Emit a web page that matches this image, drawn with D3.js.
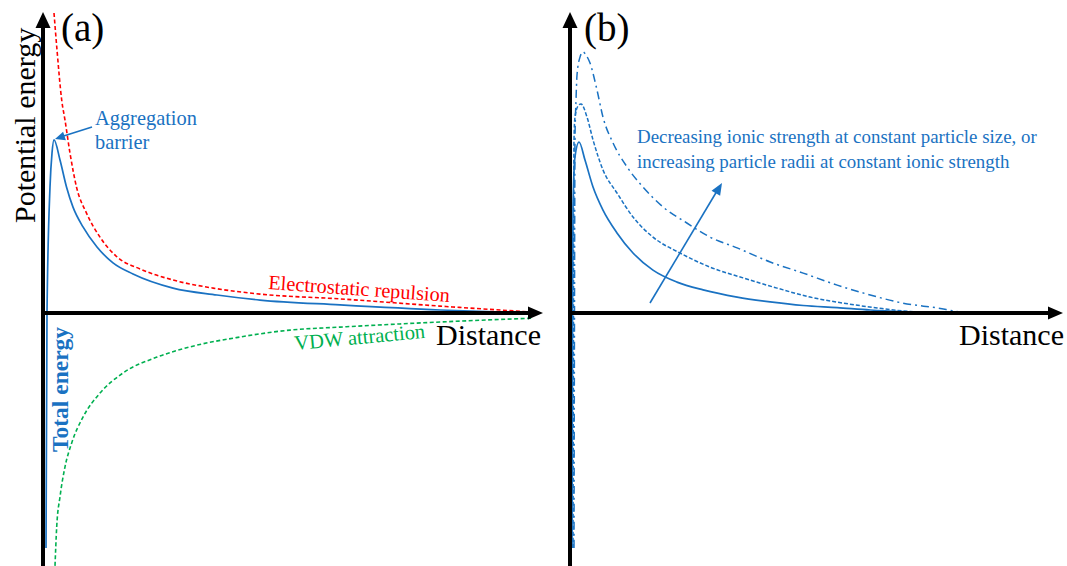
<!DOCTYPE html>
<html>
<head>
<meta charset="utf-8">
<script src="https://cdn.jsdelivr.net/npm/d3@7"></script>
<style>
  body { margin: 0; background: #fff; }
  svg { display: block; }
  text { font-family: "Liberation Serif", "Times New Roman", serif; }
</style>
</head>
<body>
<svg width="1067" height="566"></svg>
<script>
// distance (arbitrary units) vs potential energy (arbitrary units)
const totalA = [[0.6,-78.3],[0.8,0],[1.4,42],[1.8,53.3],[2.2,57.7],[3.4,51],[4.7,42],[6,35.3],[8,28.7],
  [10.8,22],[14,16.7],[18,13],[26,8.3],[34.8,6],[43.4,4.3],[59.4,2.7],[79.4,1],[98,0]];
const repulsionA = [[2.2,100],[2.8,87.7],[3.74,71],[4.4,64.3],[5.4,53.3],[6.7,42],[8.7,33.3],[11.4,25.3],
  [14.8,18.7],[19.4,14.7],[26,11],[34,8.3],[43.4,6.3],[59.4,4.7],[79.4,2.3],[98,0.3]];
const attractionA = [[2.4,-84.3],[2.74,-71.3],[3.4,-61.3],[4.4,-51.3],[5.74,-43.3],[8,-34.7],[11.4,-26.7],
  [16,-20],[22.8,-14.7],[29.4,-11.3],[39.4,-8],[49.4,-5.7],[59.4,-4.7],[79.4,-3],[98,-1.7]];

const lowB = [[0.41,-78.3],[0.5,0],[0.61,35.3],[1.01,52],[1.83,57],[3.04,51],[4.67,42],[6.69,34.3],[9.53,26.7],
  [12.78,20],[16.83,14.3],[21.7,10.3],[27,7.7],[33.9,5.3],[40.6,3.7],[47.3,2.5],[54.2,1.8],[60.9,1],
  [67.5,0.5],[74.4,0.2],[80.5,0],[98,0]];
const midB = [[0.61,-78.3],[0.71,0],[0.81,57.7],[1.01,65.3],[1.62,69],[2.23,69.7],[3.45,65.3],[4.67,57.7],
  [6.69,47.7],[9.53,40],[12.78,32],[16.83,25.3],[22.3,20],[28.4,15.3],[35.1,11.7],[42,8.3],[48.7,5.3],
  [55.4,3.3],[62.3,1.7],[69,0.5],[76.5,0.1],[80.5,0],[98,0]];
const highB = [[0.81,-78.3],[0.91,0],[1.01,57.7],[1.22,71],[1.42,79.3],[2.03,85.3],[2.64,87],[3.25,86],
  [4.06,83.3],[5.48,74.3],[6.69,65.3],[8.72,56.7],[11.56,48.7],[14.8,42],[18.9,35.3],[23.7,30],[28.4,25.3],
  [33.9,21.7],[40.6,17],[47.3,13.3],[54.2,9.3],[60.9,6],[67.5,3.3],[74.4,1.7],[79.7,0.3],[85.2,0],[98,0]];

const panelLabels = ["(a)", "(b)"];
const axisTitleX = "Distance";
const axisTitleY = "Potential energy";
const noteB = ["Decreasing ionic strength at constant particle size, or",
               "increasing particle radii at constant ionic strength"];

const blue = "#1a72c2", red = "#ff0000", green = "#00b050";

const svg = d3.select("svg");
const y = d3.scaleLinear().domain([-85, 100]).range([568, 13]);
const xA = d3.scaleLinear().domain([0, 100]).range([43, 543]);
const xB = d3.scaleLinear().domain([0, 100]).range([570, 1063]);

function arrowHead(g, x1, y1, x2, y2, len, half, color) {
  const a = Math.atan2(y2 - y1, x2 - x1);
  const bx = x2 - len * Math.cos(a), by = y2 - len * Math.sin(a);
  const px = -Math.sin(a) * half, py = Math.cos(a) * half;
  g.append("path")
    .attr("d", `M${x2},${y2}L${bx + px},${by + py}L${bx - px},${by - py}Z`)
    .attr("fill", color);
}

function axes(x) {
  const g = svg.append("g");
  const x0 = x(0), y0 = y(0);
  // y axis
  g.append("line").attr("x1", x0).attr("x2", x0).attr("y1", 566).attr("y2", y(100) + 10)
    .attr("stroke", "#000").attr("stroke-width", 4);
  arrowHead(g, x0, 300, x0, y(100) - 1, 16, 7.5, "#000");
  // x axis
  g.append("line").attr("x1", x0 - 2).attr("x2", x(100) - 10).attr("y1", y0).attr("y2", y0)
    .attr("stroke", "#000").attr("stroke-width", 4);
  arrowHead(g, 300, y0, x(100), y0, 15, 6.5, "#000");
}

function curve(x, data, color, dash, width) {
  const line = d3.line().x(d => x(d[0])).y(d => y(d[1])).curve(d3.curveMonotoneX);
  svg.append("path").datum(data).attr("d", line)
    .attr("fill", "none").attr("stroke", color).attr("stroke-width", width || 1.6)
    .attr("stroke-dasharray", dash);
}

// panel (a)
curve(xA, repulsionA, red, "4,2.5");
curve(xA, attractionA, green, "4,2.5");
curve(xA, totalA, blue, null, 1.7);
axes(xA);

// panel (b)
curve(xB, highB, blue, "8,4,2,4", 1.5);
curve(xB, midB, blue, "4,2", 1.5);
curve(xB, lowB, blue, null, 1.7);
axes(xB);

// labels
svg.append("text").attr("x", 61).attr("y", 41).attr("font-size", 39).text(panelLabels[0]);
svg.append("text").attr("x", 584).attr("y", 41).attr("font-size", 39).text(panelLabels[1]);

svg.append("text").attr("transform", "translate(35,223) rotate(-90)")
  .attr("font-size", 30).text(axisTitleY);
svg.append("text").attr("x", 541).attr("y", 345).attr("text-anchor", "end")
  .attr("font-size", 30).text(axisTitleX);
svg.append("text").attr("x", 1064).attr("y", 345).attr("text-anchor", "end")
  .attr("font-size", 30).text(axisTitleX);

// annotations panel (a)
const ag = svg.append("g").attr("fill", blue).attr("font-size", 20.4);
ag.append("text").attr("x", 95).attr("y", 125).text("Aggregation");
ag.append("text").attr("x", 95).attr("y", 149).text("barrier");
svg.append("line").attr("x1", 92).attr("y1", 127).attr("x2", 62).attr("y2", 136.5)
  .attr("stroke", blue).attr("stroke-width", 1.6);
arrowHead(svg, 92, 127, 55, 139, 10, 4.5, blue);

svg.append("text").attr("transform", "translate(268,289) rotate(4.1)")
  .attr("fill", red).attr("font-size", 20.3).text("Electrostatic repulsion");
svg.append("text").attr("transform", "translate(295,350) rotate(-5.3)")
  .attr("fill", green).attr("font-size", 20.5).text("VDW attraction");
svg.append("text").attr("transform", "translate(68,452) rotate(-90)")
  .attr("fill", blue).attr("font-size", 23.5).attr("font-weight", "bold").text("Total energy");

// annotations panel (b)
const bg = svg.append("g").attr("fill", blue).attr("font-size", 18.9);
bg.append("text").attr("x", 637).attr("y", 143).text(noteB[0]);
bg.append("text").attr("x", 637).attr("y", 168).text(noteB[1]);
svg.append("line").attr("x1", 650).attr("y1", 303).attr("x2", 717).attr("y2", 191)
  .attr("stroke", blue).attr("stroke-width", 1.6);
arrowHead(svg, 650, 303, 722, 183, 12, 5, blue);
</script>
</body>
</html>
